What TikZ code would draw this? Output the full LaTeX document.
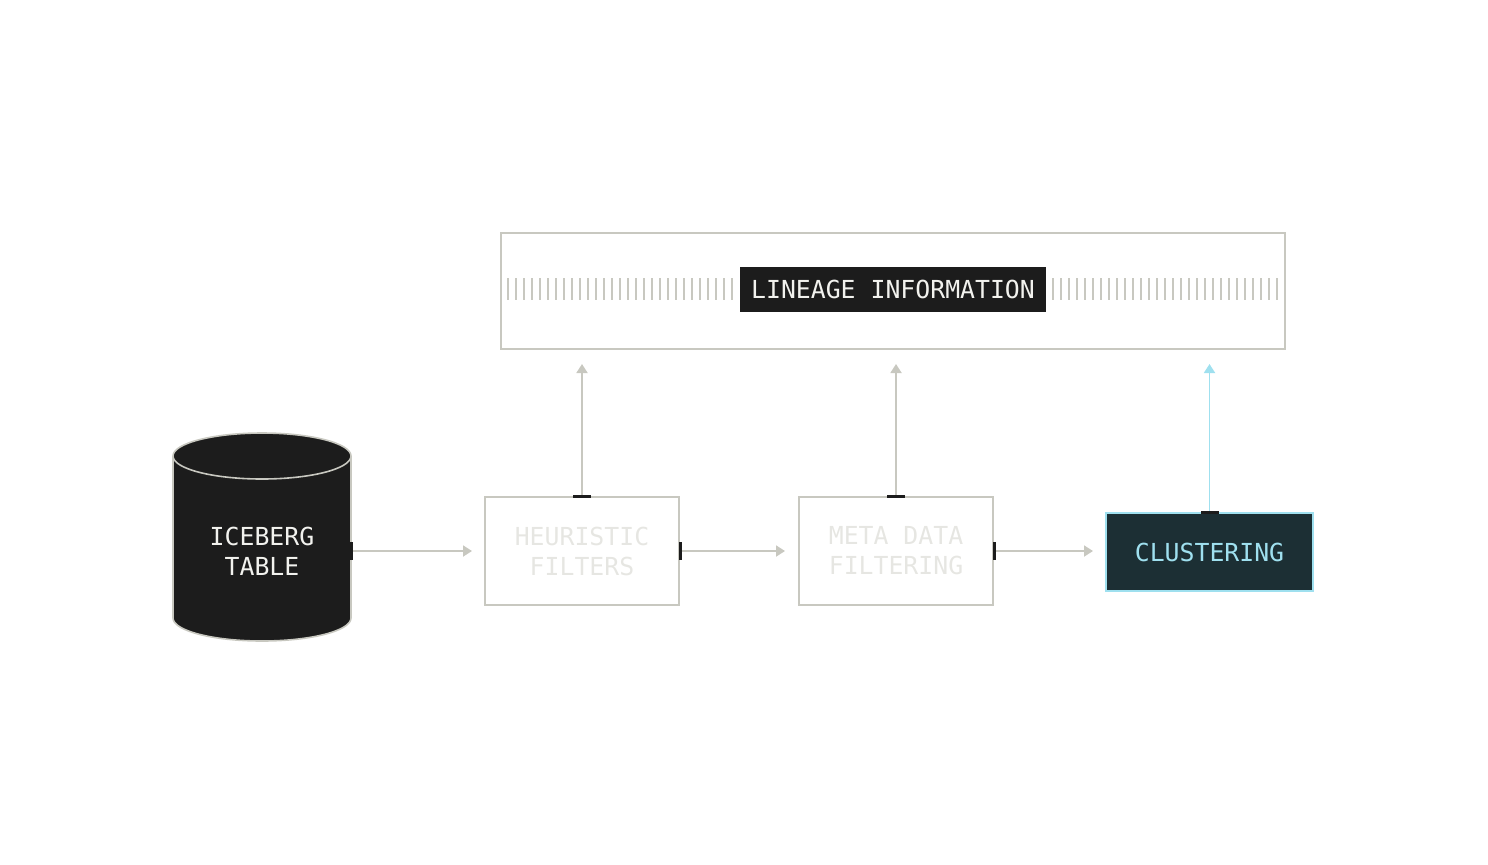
\documentclass[tikz,border=0pt]{standalone}
\usepackage{fontspec}
\setmonofont{DejaVu Sans Mono}
\usetikzlibrary{arrows.meta}
\definecolor{ink}{HTML}{1C1C1C}
\definecolor{rule}{HTML}{C8C8C0}
\definecolor{faint}{HTML}{E6E6E2}
\definecolor{paper}{HTML}{F2F2EE}
\definecolor{deep}{HTML}{1C2F34}
\definecolor{sky}{HTML}{9FE0EF}
\begin{document}
\begin{tikzpicture}
	[x=0.5pt, y=-0.5pt,
	label/.style={font=\ttfamily\fontsize{12.4}{15}\selectfont, align=center},
	stage/.style={label, draw=rule, line width=1pt, text=faint, minimum width=97pt, minimum height=54pt, inner sep=0pt},
	port/.style={fill=ink, inner sep=0pt},
	tick/.style={draw=rule, line width=1pt},
	flow/.style={draw=rule, line width=0.9pt, -{Triangle[length=4.5pt,width=5.5pt]}}]
	\useasboundingbox (0,0) rectangle (1488,864);
	\node[draw=rule, line width=1pt, minimum width=392pt, minimum height=58pt] (lin) at (893,291) {};
	\foreach \i in {0,...,28}
		\draw[tick] (508+8*\i,278) -- ++(0,22) (1053+8*\i,278) -- ++(0,22);
	\node[label, fill=ink, text=paper, minimum width=153pt, minimum height=22.5pt, inner sep=0pt] (lbl) at (893,289.5) {LINEAGE INFORMATION};
	\fill[ink] (173,456) rectangle (351,618);
	\fill[ink] (262,618) ellipse [x radius=44.5pt, y radius=11.5pt];
	\draw[rule, line width=0.8pt] (173,456) -- (173,618) arc [start angle=180, end angle=360, x radius=44.5pt, y radius=11.5pt] -- (351,456);
	\draw[rule, line width=0.8pt, fill=ink] (262,456) ellipse [x radius=44.5pt, y radius=11.5pt];
	\node[label, text=paper, minimum width=89pt, inner sep=0pt] (tbl) at (262,551) {ICEBERG\\TABLE};
	\node[stage] (hf) at (582,551) {HEURISTIC\\FILTERS};
	\node[stage] (mf) at (896,551) {META DATA\\FILTERING};
	\node[label, draw=sky, fill=deep, text=sky, line width=1pt, minimum width=103.5pt, minimum height=39pt, inner sep=0pt] (cl) at (1209.5,552) {CLUSTERING};
	\draw[flow, shorten >=6pt] (tbl.east) -- (hf.west);
	\draw[flow, shorten >=6.5pt] (hf.east) -- (mf.west);
	\draw[flow, shorten >=6pt] (mf.east) -- (mf.east -| cl.west);
	\draw[flow, shorten >=7pt] (hf.north) -- (hf.north |- lin.south);
	\draw[flow, shorten >=7pt] (mf.north) -- (mf.north |- lin.south);
	\draw[flow, draw=sky, shorten >=7pt] (cl.north) -- (cl.north |- lin.south);
	\node[port, minimum width=1.5pt, minimum height=9pt] (p1) at (tbl.east) {};
	\node[port, minimum width=1.5pt, minimum height=9pt] (p2) at (hf.east) {};
	\node[port, minimum width=1.5pt, minimum height=9pt] (p3) at (mf.east) {};
	\node[port, minimum width=9pt, minimum height=1.5pt] (p4) at (hf.north) {};
	\node[port, minimum width=9pt, minimum height=1.5pt] (p5) at (mf.north) {};
	\node[port, minimum width=9pt, minimum height=1.5pt] (p6) at (cl.north) {};
\end{tikzpicture}
\end{document}
